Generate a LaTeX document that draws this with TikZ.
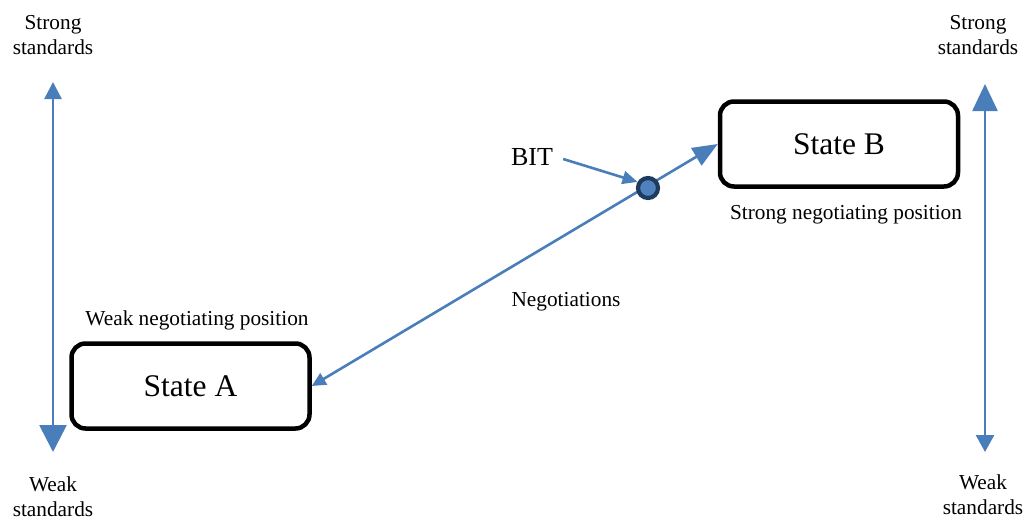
\documentclass[tikz,border=0pt]{standalone}
\usepackage{fontspec}
\setmainfont{Liberation Serif}
\usetikzlibrary{arrows.meta}
\definecolor{arrblue}{HTML}{4A7EBB}
\definecolor{dotfill}{HTML}{4F81BD}
\definecolor{dotedge}{HTML}{1F3A5F}
\tikzset{
  statebox/.style={draw=black, line width=4.5pt, rounded corners=14pt, minimum width=238pt, minimum height=85pt, font=\fontsize{31.5}{36}\selectfont},
  lbl/.style={font=\fontsize{21.3}{25}\selectfont, align=center, inner sep=0pt},
  conn/.style={draw=arrblue, line width=2.6pt},
}
\begin{document}
\begin{tikzpicture}[x=1pt,y=-1pt]
\useasboundingbox (0,0) rectangle (1023,520);
% state boxes
\node[statebox] (A) at (190.5,386) {State A};
\node[statebox] (B) at (839,144) {State B};
\node[lbl] (wnp) at (197,320) {Weak negotiating position};
\node[lbl] (snp) at (846,215) {Strong negotiating position};
\node[lbl] (neg) at (566,302) {Negotiations};
\node[lbl, font=\fontsize{26}{30}\selectfont] (bitlbl) at (532,157) {BIT};
% standards labels
\node[lbl] (ls) at (53,35) {Strong\\standards};
\node[lbl] (lw) at (53,497) {Weak\\standards};
\node[lbl] (rs) at (978,35) {Strong\\standards};
\node[lbl] (rw) at (983,495) {Weak\\standards};
% vertical arrows
\coordinate (lt) at (53,82);
\coordinate (lb) at (53,452);
\coordinate (rt) at (985,84);
\coordinate (rb) at (985,452);
\draw[conn, arrblue, {Triangle[length=17pt,width=17pt]}-{Triangle[length=27pt,width=27pt]}] (lt) -- (lb);
\draw[conn, arrblue, {Triangle[length=27pt,width=25pt]}-{Triangle[length=17pt,width=18pt]}] (rt) -- (rb);
% negotiation arrow
\draw[conn, arrblue, {Triangle[length=14pt,width=13pt]}-{Triangle[length=25pt,width=20pt]}] (A.east) -- (B.west);
% BIT dot
\node[circle, draw=dotedge, fill=dotfill, line width=4.2pt, minimum size=20pt, inner sep=0pt] (bit) at (648,188) {};
\draw[conn, arrblue, -{Triangle[length=15pt,width=13pt]}] (bitlbl.east) ++(10,2) coordinate (bs) -- (bit.150);
\end{tikzpicture}
\end{document}
